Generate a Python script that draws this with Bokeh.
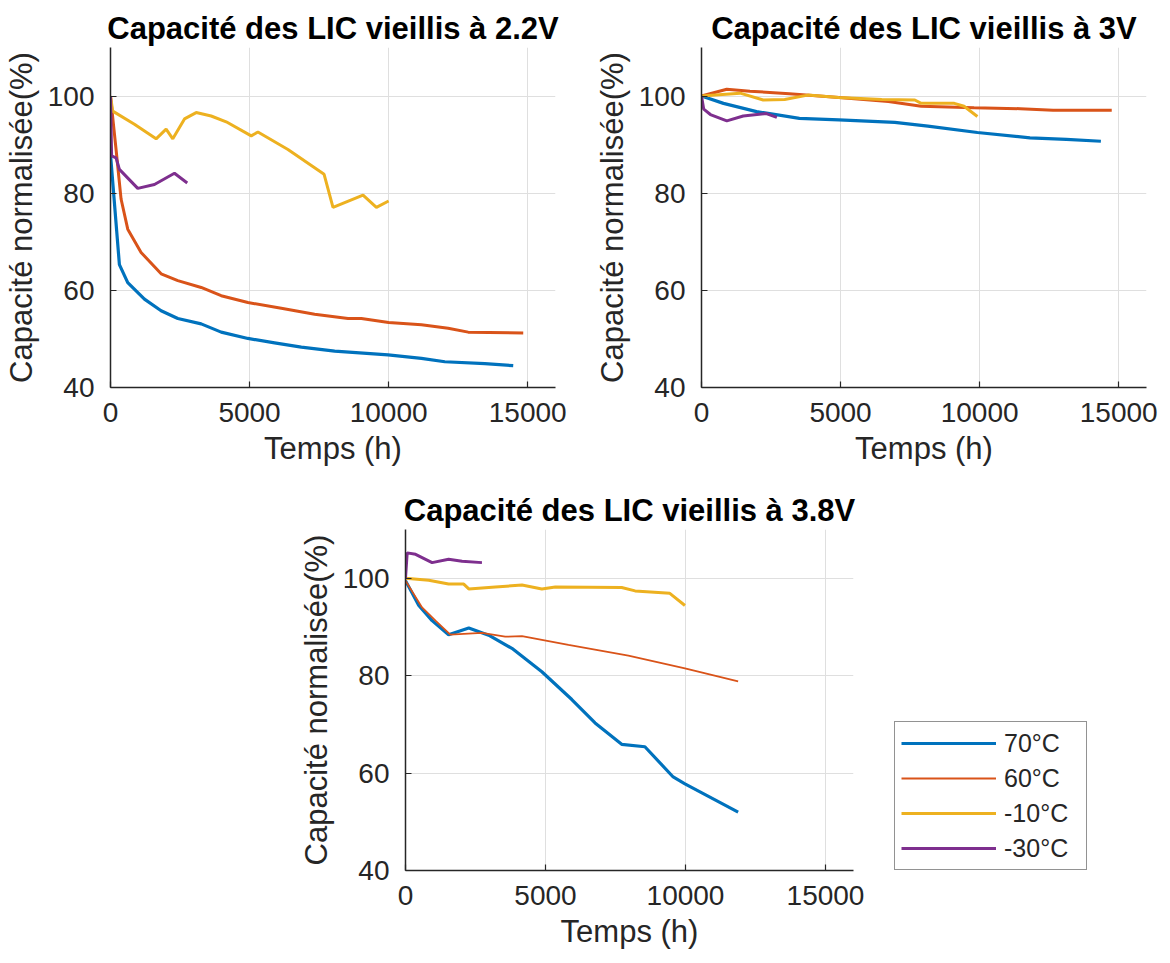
from bokeh.plotting import figure
from bokeh.layouts import column, row, Spacer
from bokeh.models import Range1d, FixedTicker, Legend, LegendItem
from bokeh.embed import file_html
from bokeh.resources import INLINE

# ---------------- data ----------------
series_names = ["70°C", "60°C", "-10°C", "-30°C"]
colors = ["#0072BD", "#D95319", "#EDB120", "#7E2F8E"]

titles = ["Capacité des LIC vieillis à 2.2V",
          "Capacité des LIC vieillis à 3V",
          "Capacité des LIC vieillis à 3.8V"]
x_ticks = [0, 5000, 10000, 15000]
y_ticks = [40, 60, 80, 100]

# 2.2 V
v22_70_t = [0, 320, 620, 1220, 1820, 2420, 3260, 3980, 4940, 5900, 6860, 8060, 9980, 11180, 12020, 13460, 14480]
v22_70_c = [88.0, 65.3, 61.6, 58.2, 55.8, 54.2, 53.1, 51.4, 50.1, 49.2, 48.3, 47.5, 46.7, 46.0, 45.3, 44.9, 44.5]
v22_60_t = [0, 200, 380, 620, 1100, 1820, 2420, 3260, 3980, 4940, 6140, 7340, 8540, 9020, 10000, 11180, 12140, 12860, 14840]
v22_60_c = [100.0, 89.0, 78.8, 72.6, 67.8, 63.4, 62.0, 60.6, 58.9, 57.5, 56.3, 55.1, 54.2, 54.2, 53.4, 52.9, 52.2, 51.4, 51.2]
v22_m10_t = [0, 80, 860, 1640, 2000, 2240, 2660, 3080, 3620, 4160, 5060, 5300, 6380, 7680, 8000, 9080, 9560, 10000]
v22_m10_c = [100.0, 96.9, 94.2, 91.2, 93.2, 91.2, 95.3, 96.6, 95.9, 94.7, 91.8, 92.6, 89.0, 83.9, 77.1, 79.6, 77.1, 78.4]
v22_m30_t = [0, 40, 200, 320, 980, 1580, 2300, 2760]
v22_m30_c = [100.0, 87.7, 87.3, 84.9, 81.0, 81.8, 84.1, 82.1]

# 3 V
v3_70_t = [0, 790, 1980, 3520, 4940, 6950, 8140, 9920, 11810, 13120, 14360]
v3_70_c = [100.0, 98.5, 96.8, 95.4, 95.1, 94.6, 93.8, 92.5, 91.4, 91.1, 90.7]
v3_60_t = [0, 910, 1740, 3160, 4940, 6720, 7900, 9800, 11460, 12640, 14750]
v3_60_c = [100.0, 101.4, 101.0, 100.5, 99.7, 98.9, 97.9, 97.6, 97.4, 97.1, 97.1]
v3_m10_t = [0, 1390, 2220, 2990, 3820, 4940, 6480, 7670, 7900, 9090, 9440, 9920]
v3_m10_c = [100.0, 100.6, 99.2, 99.3, 100.2, 99.7, 99.3, 99.2, 98.5, 98.5, 97.9, 95.8]
v3_m30_t = [0, 80, 320, 910, 1500, 2330, 2710]
v3_m30_c = [100.0, 97.3, 96.2, 94.9, 95.9, 96.4, 95.6]

# 3.8 V
v38_70_t = [0, 475, 950, 1540, 2260, 2970, 3800, 4870, 5940, 6770, 7720, 8550, 9560, 9980, 11880]
v38_70_c = [99.5, 94.4, 91.3, 88.4, 89.8, 88.3, 85.6, 80.8, 75.1, 70.3, 65.9, 65.4, 59.2, 57.8, 52.0]
v38_60_t = [0, 590, 1070, 1600, 2730, 3560, 4160, 5820, 7960, 9980, 11880]
v38_60_c = [99.5, 94.0, 91.3, 88.4, 88.8, 88.0, 88.1, 86.3, 84.1, 81.5, 78.8]
v38_m10_t = [0, 830, 1540, 2080, 2260, 3210, 4160, 4870, 5350, 7720, 8200, 9440, 9980]
v38_m10_c = [100.0, 99.6, 98.8, 98.8, 97.8, 98.2, 98.6, 97.8, 98.2, 98.1, 97.4, 96.9, 94.4]
v38_m30_t = [0, 60, 360, 950, 1540, 2020, 2730]
v38_m30_c = [100.0, 105.2, 104.9, 103.2, 103.9, 103.5, 103.2]

panels = [
    [(v22_70_t, v22_70_c), (v22_60_t, v22_60_c), (v22_m10_t, v22_m10_c), (v22_m30_t, v22_m30_c)],
    [(v3_70_t, v3_70_c), (v3_60_t, v3_60_c), (v3_m10_t, v3_m10_c), (v3_m30_t, v3_m30_c)],
    [(v38_70_t, v38_70_c), (v38_60_t, v38_60_c), (v38_m10_t, v38_m10_c), (v38_m30_t, v38_m30_c)],
]

FONT = "Liberation Sans"
GRAY = "#262626"


def make_fig(title, fw, fh, bl, br, bt, bb):
    p = figure(frame_width=fw, frame_height=fh,
               x_range=Range1d(0, 16000), y_range=Range1d(40, 110),
               output_backend="svg", toolbar_location=None,
               min_border_left=bl, min_border_right=br,
               min_border_top=bt, min_border_bottom=bb,
               title=title)
    p.outline_line_color = None
    p.background_fill_color = "white"
    p.border_fill_color = "white"
    p.title.text_font = FONT
    p.title.text_font_size = "31px"
    p.title.text_font_style = "bold"
    p.title.text_color = "#000000"
    p.title.align = "center"
    p.title.standoff = 4
    p.xaxis.ticker = FixedTicker(ticks=x_ticks)
    p.yaxis.ticker = FixedTicker(ticks=y_ticks)
    p.xaxis.axis_label = "Temps (h)"
    p.yaxis.axis_label = "Capacité normalisée(%)"
    for ax in (p.xaxis, p.yaxis):
        ax.axis_label_text_font = FONT
        ax.axis_label_text_font_size = "31px"
        ax.axis_label_text_font_style = "normal"
        ax.axis_label_text_color = GRAY
        ax.major_label_text_font = FONT
        ax.major_label_text_font_size = "28px"
        ax.major_label_text_color = GRAY
        ax.axis_line_color = GRAY
        ax.axis_line_width = 1.5
        ax.major_tick_line_color = GRAY
        ax.major_tick_line_width = 1.2
        ax.major_tick_in = 6
        ax.major_tick_out = 0
        ax.minor_tick_line_color = None
    p.xaxis.major_label_standoff = 15
    p.xaxis.axis_label_standoff = 6
    p.yaxis.major_label_standoff = 16
    p.yaxis.axis_label_standoff = 6
    p.grid.grid_line_color = "#DFDFDF"
    p.grid.grid_line_width = 1
    return p


p1 = make_fig(titles[0], 445, 340, 109, 20, 47, 90)
p2 = make_fig(titles[1], 445, 340, 126, 15, 47, 90)
p3 = make_fig(titles[2], 448, 341, 109, 240, 52, 90)

items = []
for p, data, widths in [(p1, panels[0], [3.2, 3.0, 3.0, 3.0]),
                        (p2, panels[1], [3.2, 3.0, 3.0, 3.0]),
                        (p3, panels[2], [3.2, 1.8, 3.0, 3.0])]:
    for (t, c), col, w, name in zip(data, colors, widths, series_names):
        r = p.line(t, c, line_color=col, line_width=w)
        if p is p3:
            items.append(LegendItem(label=name, renderers=[r]))

lg = Legend(items=items, location=(41, 0), margin=0, padding=6, spacing=5,
            glyph_width=95, glyph_height=30, label_height=30, label_width=76,
            label_standoff=8,
            label_text_font=FONT, label_text_font_size="25px", label_text_color=GRAY,
            border_line_color=GRAY, border_line_width=1.5,
            background_fill_color="white", background_fill_alpha=1.0)
p3.add_layout(lg, "right")

layout = column(row(p1, p2), row(Spacer(width=295, height=10), p3))

open("out.html", "w").write(file_html(layout, INLINE))
